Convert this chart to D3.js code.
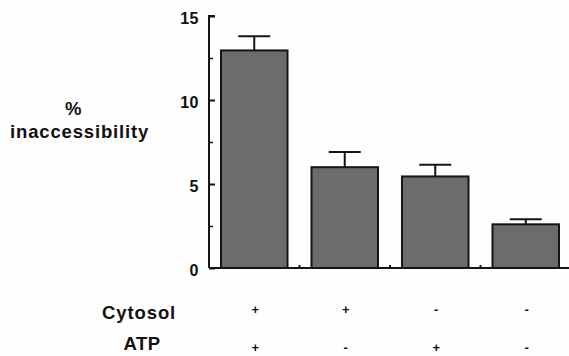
<!DOCTYPE html>
<html>
<head>
<meta charset="utf-8">
<script src="https://cdn.jsdelivr.net/npm/d3@7"></script>
<style>
  html, body { margin: 0; padding: 0; background: #fff; }
  svg { display: block; }
  text { font-family: "Liberation Sans", Arial, Helvetica, sans-serif; font-weight: bold; fill: #111; }
</style>
</head>
<body>
<svg id="chart" width="569" height="356"></svg>
<script>
// Treatment groups and measured inaccessibility (mean and SE)
const groups = ["Cytosol+ATP", "Cytosol only", "ATP only", "Neither"];
const cytosolRow = ["+", "+", "-", "-"];
const atpRow = ["+", "-", "+", "-"];
const inaccessibility = [12.95, 6.0, 5.45, 2.6];
const errorUp = [0.85, 0.9, 0.7, 0.3];
const majorTicks = [0, 5, 10, 15];
const minorTicks = [2.5, 7.5, 12.5];

const svg = d3.select("#chart");
const W = 569, H = 356;
svg.append("rect").attr("width", W).attr("height", H).attr("fill", "#fefefe");

const x = d3.scaleBand().domain(groups).range([209, 571]).paddingInner(0.265).paddingOuter(0.1325);
const y = d3.scaleLinear().domain([0, 15]).range([268, 16]);
const axisX = 209;

// Bars
svg.selectAll("rect.bar").data(groups).enter().append("rect")
  .attr("class", "bar")
  .attr("x", d => x(d))
  .attr("y", (d, i) => y(inaccessibility[i]))
  .attr("width", x.bandwidth())
  .attr("height", (d, i) => y(0) - y(inaccessibility[i]))
  .attr("fill", "#6c6c6c")
  .attr("stroke", "#151515")
  .attr("stroke-width", 2);

// Error bars (upper only)
const capW = 32;
groups.forEach((g, i) => {
  const cx = x(g) + x.bandwidth() / 2;
  const top = y(inaccessibility[i] + errorUp[i]);
  svg.append("line").attr("x1", cx).attr("x2", cx)
    .attr("y1", y(inaccessibility[i])).attr("y2", top)
    .attr("stroke", "#151515").attr("stroke-width", 2);
  svg.append("line").attr("x1", cx - capW / 2).attr("x2", cx + capW / 2)
    .attr("y1", top).attr("y2", top)
    .attr("stroke", "#151515").attr("stroke-width", 2);
});

// Y axis with inward ticks
const yAxis = d3.axisRight(y).tickValues(majorTicks).tickSize(6).tickFormat("");
const yg = svg.append("g").attr("transform", `translate(${axisX},0)`).call(yAxis);
yg.select(".domain").attr("d", `M6,${y(15)}H0V${y(0)}`).attr("stroke", "#151515").attr("stroke-width", 2);
yg.selectAll(".tick line").attr("stroke", "#151515").attr("stroke-width", 2);

const yMinor = d3.axisRight(y).tickValues(minorTicks).tickSize(4).tickFormat("");
const ym = svg.append("g").attr("transform", `translate(${axisX},0)`).call(yMinor);
ym.select(".domain").remove();
ym.selectAll(".tick line").attr("stroke", "#151515").attr("stroke-width", 1.5);

// Y tick labels
svg.selectAll("text.ylab").data(majorTicks).enter().append("text")
  .attr("class", "ylab")
  .attr("x", 199)
  .attr("y", d => y(d) + 8)
  .attr("text-anchor", "end")
  .attr("font-size", 16)
  .attr("letter-spacing", 0.5)
  .text(d => d);

// X axis with small group separators
svg.append("line").attr("x1", axisX).attr("x2", 569)
  .attr("y1", y(0)).attr("y2", y(0))
  .attr("stroke", "#151515").attr("stroke-width", 2);
const seps = groups.slice(1).map(g => x(g) - x.step() * x.paddingInner() / 2);
svg.selectAll("line.sep").data(seps).enter().append("line")
  .attr("x1", d => d).attr("x2", d => d)
  .attr("y1", y(0)).attr("y2", y(0) - 3)
  .attr("stroke", "#151515").attr("stroke-width", 2);

// Y axis title
svg.append("text").attr("x", 65).attr("y", 114.5)
  .attr("font-size", 18.5).text("%");
svg.append("text").attr("x", 10).attr("y", 137.5)
  .attr("font-size", 18.5).attr("letter-spacing", 0.85).text("inaccessibility");

// Condition rows
svg.append("text").attr("x", 102).attr("y", 318.5).attr("font-size", 18.5)
  .attr("letter-spacing", 0.9).text("Cytosol");
svg.append("text").attr("x", 123.5).attr("y", 350).attr("font-size", 18.5)
  .attr("letter-spacing", 0.5).text("ATP");

svg.selectAll("text.cyt").data(groups).enter().append("text")
  .attr("class", "cyt")
  .attr("x", d => x(d) + x.bandwidth() / 2 + 1)
  .attr("y", 314)
  .attr("text-anchor", "middle")
  .attr("font-size", 13)
  .text((d, i) => cytosolRow[i]);
svg.selectAll("text.atp").data(groups).enter().append("text")
  .attr("class", "atp")
  .attr("x", d => x(d) + x.bandwidth() / 2 + 1)
  .attr("y", 352)
  .attr("text-anchor", "middle")
  .attr("font-size", 13)
  .text((d, i) => atpRow[i]);
</script>
</body>
</html>
